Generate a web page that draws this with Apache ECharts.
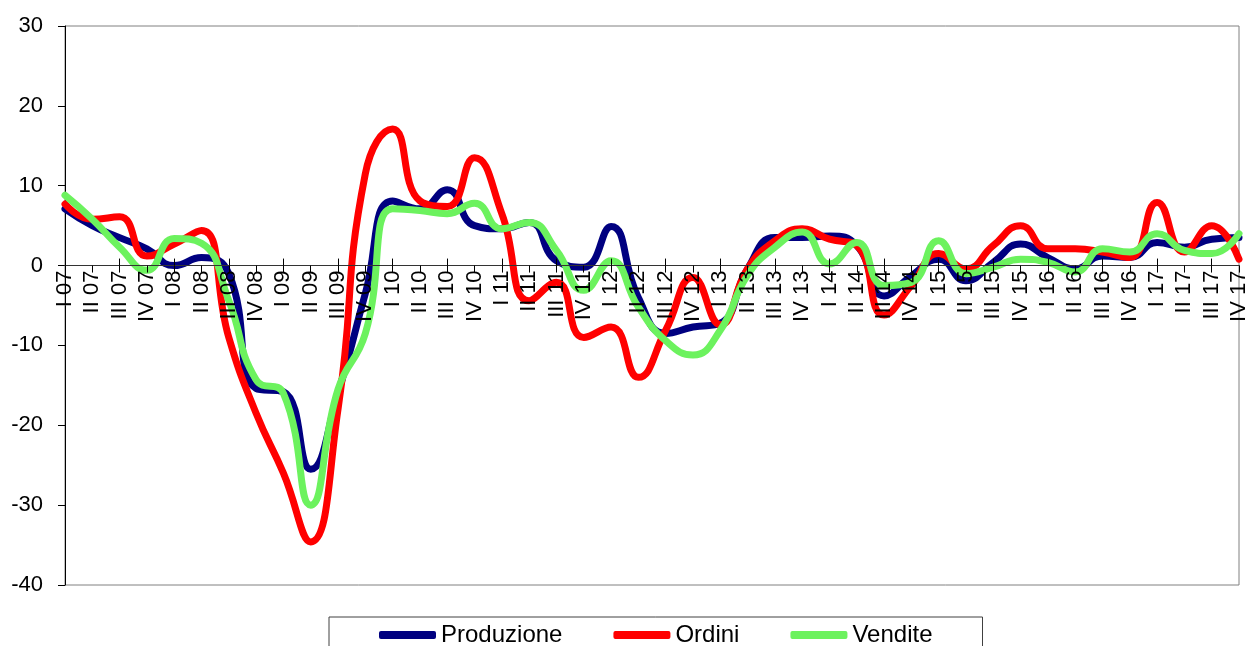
<!DOCTYPE html>
<html>
<head>
<meta charset="utf-8">
<title>Produzione, Ordini, Vendite</title>
<script src="https://cdn.jsdelivr.net/npm/echarts@6/dist/echarts.min.js"></script>
<style>
  html, body { margin: 0; padding: 0; background: #fff; }
  #chart { width: 1250px; height: 646px; }
</style>
</head>
<body>
<div id="chart"></div>
<script>
// Quarterly categories 2007-2017
const categories = [
  'I 07','II 07','III 07','IV 07',
  'I 08','II 08','III 08','IV 08',
  'I 09','II 09','III 09','IV 09',
  'I 10','II 10','III 10','IV 10',
  'I 11','II 11','III 11','IV 11',
  'I 12','II 12','III 12','IV 12',
  'I 13','II 13','III 13','IV 13',
  'I 14','II 14','III 14','IV 14',
  'I 15','II 15','III 15','IV 15',
  'I 16','II 16','III 16','IV 16',
  'I 17','II 17','III 17','IV 17'
];

const produzione = [
  7.1, 5.0, 3.5, 2.1,
  0.0, 1.0, -1.0, -15.4,
  -15.8, -25.5, -16.0, -3.5,
  8.1, 7.1, 9.5, 5.0,
  4.6, 5.4, 0.6, -0.2,
  4.9, -4.0, -8.5, -7.7,
  -7.2, -0.4, 3.5, 3.5,
  3.7, 2.5, -3.8, -1.3,
  0.8, -1.9, 0.4, 2.7,
  1.0, -0.4, 1.2, 1.0,
  2.9, 2.3, 3.3, 3.5
];

const ordini = [
  7.7, 5.8, 6.1, 1.2,
  2.7, 4.4, -9.0, -18.5,
  -26.0, -34.6, -18.0, 11.5,
  17.1, 8.1, 7.4, 13.5,
  6.5, -4.4, -2.1, -9.0,
  -7.7, -14.0, -8.1, -1.5,
  -7.4, -0.4, 3.1, 4.6,
  3.3, 2.5, -6.2, -2.5,
  1.5, -0.4, 2.5, 5.0,
  2.1, 2.1, 1.7, 1.0,
  7.9, 1.7, 5.0, 0.8
];

const vendite = [
  8.8, 5.8, 2.3, -0.6,
  3.4, 2.8, -4.4, -14.3,
  -16.0, -30.0, -15.5, -8.5,
  7.1, 6.9, 6.5, 7.8,
  4.6, 5.4, 1.9, -3.1,
  0.6, -5.2, -9.4, -11.2,
  -8.1, -1.2, 2.3, 4.2,
  0.2, 2.9, -2.5, -2.1,
  3.1, -1.0, -0.2, 0.8,
  0.4, -0.8, 2.1, 1.7,
  4.0, 1.9, 1.5, 4.0
];

const seriesNames = ['Produzione', 'Ordini', 'Vendite'];
const seriesColors = ['#000080', '#ff0000', '#6cf25e'];

const FONT = "'Liberation Sans', Arial, sans-serif";

// plot box
const GRID = { left: 65, right: 5, top: 26, bottom: 61 };
const Y_MIN = -40, Y_MAX = 30;
const plotHeight = 646 - GRID.top - GRID.bottom;
// the category axis sits on the value 0 line: shift it up from the plot bottom
const zeroOffset = -plotHeight * (0 - Y_MIN) / (Y_MAX - Y_MIN);

const chart = echarts.init(document.getElementById('chart'), null, { renderer: 'canvas' });

function lineSeries(idx, values) {
  return {
    name: seriesNames[idx],
    type: 'line',
    data: values,
    xAxisIndex: 0,
    yAxisIndex: 0,
    smooth: 0.5,
    symbol: 'none',
    lineStyle: { width: 7, color: seriesColors[idx], cap: 'round', join: 'round' },
    itemStyle: { color: seriesColors[idx] },
    animation: false
  };
}

chart.setOption({
  backgroundColor: '#ffffff',
  animation: false,
  grid: {
    left: GRID.left, right: GRID.right, top: GRID.top, bottom: GRID.bottom,
    show: true,
    borderColor: '#808080',
    borderWidth: 1,
    backgroundColor: 'transparent'
  },
  legend: {
    data: seriesNames,
    left: 329,
    top: 617,
    padding: [6, 50, 12, 50],
    itemGap: 51,
    itemWidth: 57,
    itemHeight: 8,
    icon: 'roundRect',
    borderColor: '#404040',
    borderWidth: 1,
    textStyle: { fontFamily: FONT, fontSize: 24, color: '#000' }
  },
  xAxis: [
    {
      // labelled axis on the zero line, ticks pointing down
      type: 'category',
      data: categories,
      boundaryGap: false,
      position: 'bottom',
      offset: zeroOffset,
      z: 10,
      axisLine: { onZero: false, lineStyle: { color: '#333', width: 1 } },
      axisTick: { show: true, inside: false, length: 7, lineStyle: { color: '#000' } },
      axisLabel: {
        rotate: 90,
        interval: 0,
        margin: 5,
        fontFamily: FONT,
        fontSize: 22,
        color: '#000'
      },
      splitLine: { show: false }
    },
    {
      // companion axis on the same line, ticks pointing up
      type: 'category',
      data: categories,
      boundaryGap: false,
      position: 'bottom',
      offset: zeroOffset,
      z: 10,
      axisLine: { onZero: false, lineStyle: { color: '#333', width: 1 } },
      axisTick: { show: true, inside: true, length: 7, lineStyle: { color: '#000' } },
      axisLabel: { show: false },
      splitLine: { show: false }
    }
  ],
  yAxis: {
    type: 'value',
    min: Y_MIN,
    max: Y_MAX,
    interval: 10,
    axisLine: { show: true, onZero: false, lineStyle: { color: '#000', width: 1 } },
    axisTick: { show: true, inside: false, length: 7, lineStyle: { color: '#000' } },
    axisLabel: { margin: 22, fontFamily: FONT, fontSize: 22, color: '#000' },
    splitLine: { show: false }
  },
  series: [
    lineSeries(0, produzione),
    lineSeries(1, ordini),
    lineSeries(2, vendite)
  ]
});
</script>
</body>
</html>
